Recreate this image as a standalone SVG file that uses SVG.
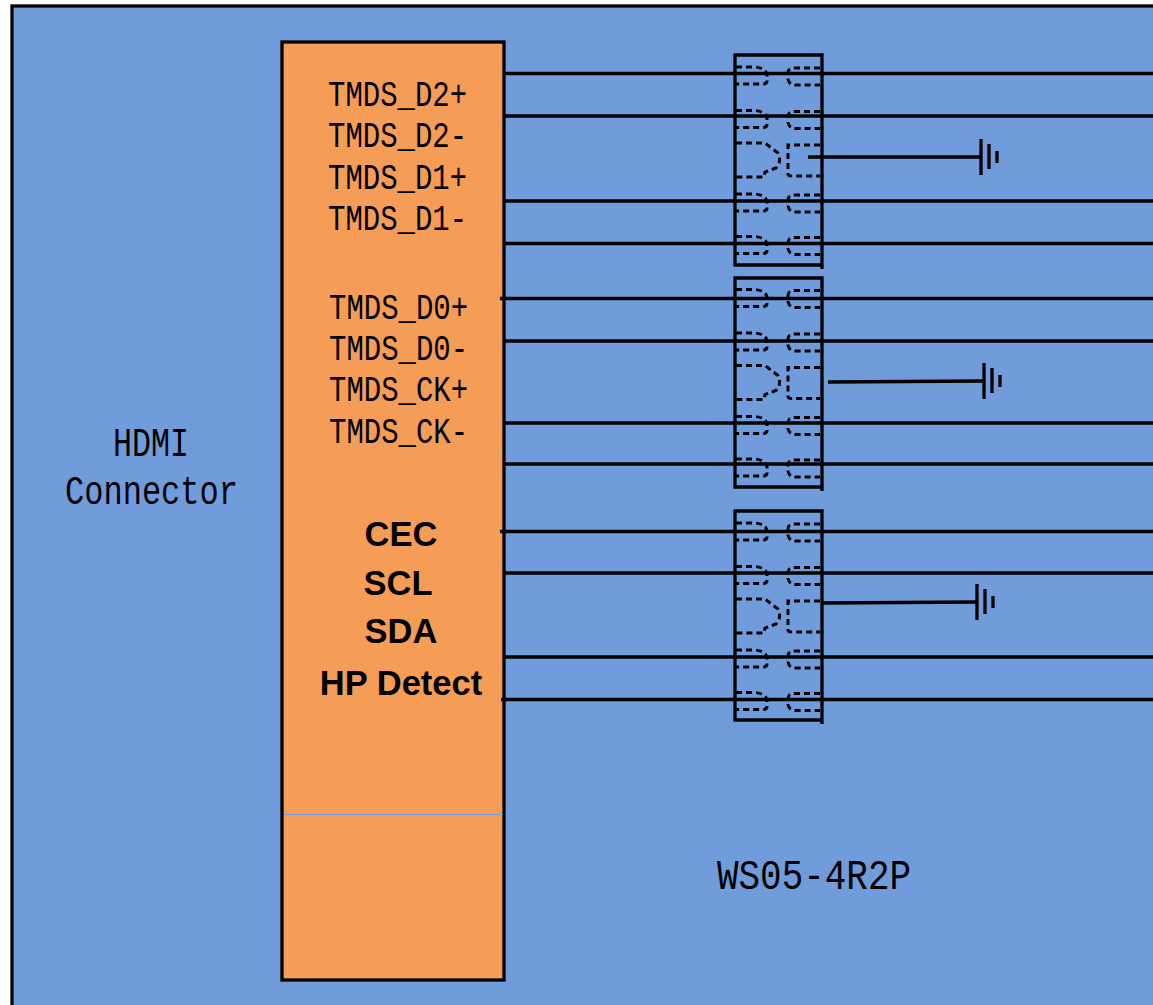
<svg xmlns="http://www.w3.org/2000/svg" width="1153" height="1005" viewBox="0 0 1153 1005">
<style>
.ln{fill:none;stroke:#000;stroke-width:3.300}
.th{fill:none;stroke:#000;stroke-width:3.300}
.d{fill:none;stroke:#000;stroke-width:3;stroke-dasharray:6 4}
.s{font-family:"Liberation Mono","DejaVu Sans Mono",monospace;fill:#000;font-size:36px}
.b{font-family:"Liberation Sans",Arial,sans-serif;font-weight:bold;fill:#000;font-size:34.500px;text-anchor:middle}
</style>
<defs>
<g id="pair">
<path class="d" d="M736 67H755Q766 68 767 75V81Q767 84 763 84H736"/>
<path class="d" d="M820 68H795Q788 68 788 73V79Q789 85 796 85H820"/>
</g>
<g id="big">
<path class="d" d="M736 143H765L778 153Q782 162 776 168L765 172L764 177H736"/>
<path class="d" d="M820 145H788V174Q788 176 792 176H820"/>
</g>
<g id="gnd">
<path class="th" d="M0 -18V18"/><path class="th" d="M8 -13V12"/><path class="th" d="M16 -6V6"/>
</g>
</defs>
<rect width="1153" height="1005" fill="#fff"/>
<g id="board"><rect x="12" y="6" width="1160" height="1020" fill="#709cdc" stroke="#000" stroke-width="3.300"/></g>
<g id="connector-block">
<rect x="282" y="42" width="222" height="938" fill="#f59c57" stroke="#000" stroke-width="3.300"/>
<path d="M284 814.500H503" stroke="#709cdc" stroke-width="1" fill="none"/>
</g>
<g id="connectors">
<path class="ln" d="M504 73.500H1153M504 116H1153M504 201H1153M504 243.500H1153"/>
<path class="ln" d="M500 298.500H1153M504 341H1153M504 423H1153M504 464H1153"/>
<path class="ln" d="M500 531.500H1153M504 573H1153M504 657H1153M501 699.500H1153"/>
<path class="th" d="M808 157H981M828 382L984 381M822 603L977 602"/>
</g>
<g id="clamp1">
<path class="ln" d="M822 269V55H735V265H822"/>
<use href="#pair"/>
<use href="#pair" y="43.500"/>
<use href="#big"/>
<use href="#pair" y="127"/>
<use href="#pair" y="169.500"/>
<use href="#gnd" x="981" y="157"/>
</g>
<g id="clamp2">
<path class="ln" d="M822 491V278H735V487H822"/>
<g transform="translate(0 222.500)">
<use href="#pair"/><use href="#pair" y="43.500"/><use href="#big"/><use href="#pair" y="127"/><use href="#pair" y="169.500"/>
</g>
<use href="#gnd" x="984" y="381"/>
</g>
<g id="clamp3">
<path class="ln" d="M822 724V511H735V720H822"/>
<g transform="translate(0 456)">
<use href="#pair"/><use href="#pair" y="43.500"/><use href="#big"/><use href="#pair" y="127"/><use href="#pair" y="169.500"/>
</g>
<use href="#gnd" x="977" y="602"/>
</g>
<g id="labels">
<text class="s" x="328" y="106" textLength="139" lengthAdjust="spacingAndGlyphs">TMDS_D2+</text>
<text class="s" x="328" y="147" textLength="139" lengthAdjust="spacingAndGlyphs">TMDS_D2-</text>
<text class="s" x="328" y="189" textLength="139" lengthAdjust="spacingAndGlyphs">TMDS_D1+</text>
<text class="s" x="328" y="230" textLength="139" lengthAdjust="spacingAndGlyphs">TMDS_D1-</text>
<text class="s" x="329" y="319" textLength="139" lengthAdjust="spacingAndGlyphs">TMDS_D0+</text>
<text class="s" x="329" y="360" textLength="139" lengthAdjust="spacingAndGlyphs">TMDS_D0-</text>
<text class="s" x="329" y="401" textLength="139" lengthAdjust="spacingAndGlyphs">TMDS_CK+</text>
<text class="s" x="329" y="443" textLength="139" lengthAdjust="spacingAndGlyphs">TMDS_CK-</text>
<text class="b" x="401" y="546">CEC</text>
<text class="b" x="398" y="595">SCL</text>
<text class="b" x="401" y="643">SDA</text>
<text class="b" x="401" y="695">HP Detect</text>
<text class="s" x="113" y="456" textLength="76" lengthAdjust="spacingAndGlyphs" style="font-size:40px">HDMI</text>
<text class="s" x="65" y="504" textLength="173" lengthAdjust="spacingAndGlyphs" style="font-size:40px">Connector</text>
<text class="s" x="717" y="889" textLength="194" lengthAdjust="spacingAndGlyphs" style="font-size:42px">WS05-4R2P</text>
</g>
</svg>
